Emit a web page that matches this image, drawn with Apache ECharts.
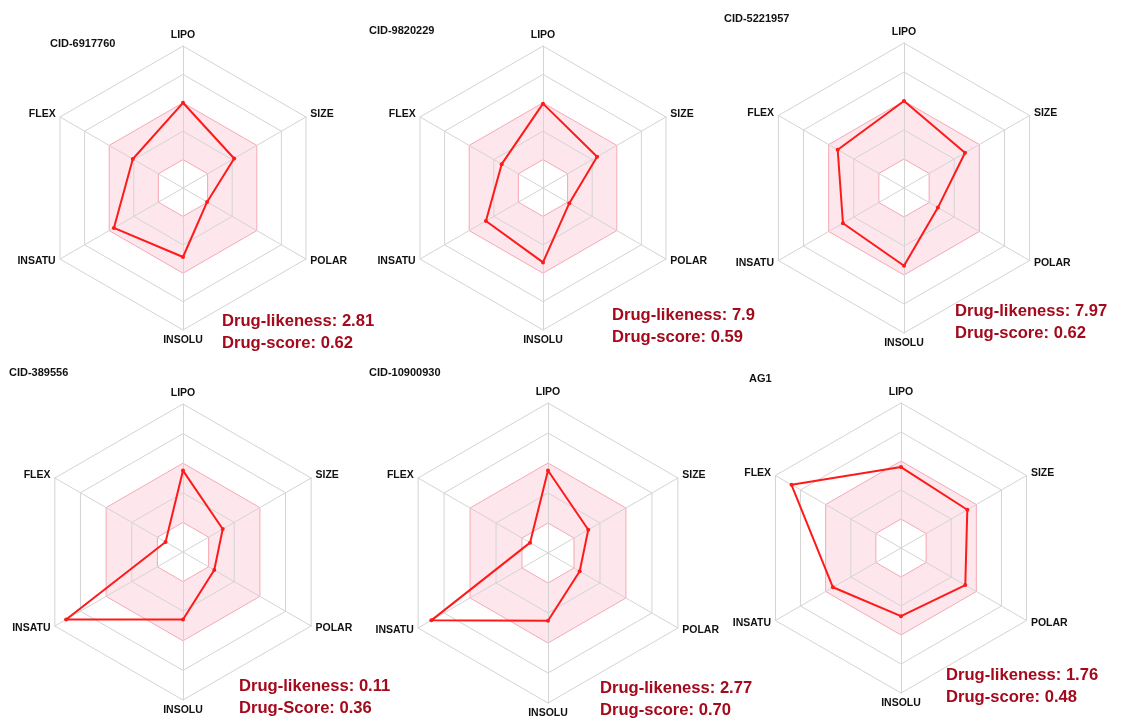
<!DOCTYPE html>
<html>
<head>
<meta charset="utf-8">
<script src="https://cdn.jsdelivr.net/npm/echarts@6/dist/echarts.min.js"></script>
<style>html,body{margin:0;padding:0;background:#fff;}#c{width:1124px;height:724px;}</style>
</head>
<body>
<div id="c"></div>
<script>
// Axis order (counter-clockwise from top, as ECharts radar places them)
const axisNames = ['LIPO', 'FLEX', 'INSATU', 'INSOLU', 'POLAR', 'SIZE'];
const axisMax = 5;

const compounds = ['CID-6917760', 'CID-9820229', 'CID-5221957', 'CID-389556', 'CID-10900930', 'AG1'];

const valsCID6917760  = [3.00, 2.04, 2.81, 2.43, 0.98, 2.08];
const valsCID9820229  = [2.97, 1.68, 2.32, 2.62, 1.07, 2.20];
const valsCID5221957  = [3.00, 2.64, 2.43, 2.68, 1.35, 2.43];
const valsCID389556   = [2.75, 0.68, 4.56, 2.28, 1.22, 1.55];
const valsCID10900930 = [2.75, 0.69, 4.49, 2.26, 1.22, 1.55];
const valsAG1         = [2.79, 4.36, 2.71, 2.35, 2.56, 2.64];

const drugLikeness = ['2.81', '7.9', '7.97', '0.11', '2.77', '1.76'];
const drugScore    = ['0.62', '0.59', '0.62', '0.36', '0.70', '0.48'];
const scoreLabel   = ['Drug-score', 'Drug-score', 'Drug-score', 'Drug-Score', 'Drug-score', 'Drug-score'];

const allValues = [valsCID6917760, valsCID9820229, valsCID5221957, valsCID389556, valsCID10900930, valsAG1];

// layout
const centers = [[183, 188], [543, 188], [904, 188], [183, 552], [548, 553], [901, 548]];
const radii = [142, 142, 145, 148, 150, 145];
const titlePos = [[50, 38], [369, 25], [724, 13], [9, 367], [369, 367], [749, 373]];
const textPos = [[222, 310], [612, 304], [955, 300], [239, 675], [600, 677], [946, 664]];

const gridGrey = '#d4d4d4';
const bandPink = '#fde6ec';
const bandEdge = '#f5a9b4';
const lineRed = '#ff1a1a';
const textRed = '#a30a1c';
const fontFam = 'Liberation Sans, Arial, sans-serif';

const radars = [], series = [], titles = [];
for (let k = 0; k < 6; k++) {
  radars.push({
    center: centers[k],
    radius: radii[k],
    shape: 'polygon',
    splitNumber: 5,
    indicator: axisNames.map(n => ({ name: n, min: 0, max: axisMax })),
    axisName: { color: '#111', fontSize: 10.5, fontWeight: 'bold', fontFamily: fontFam },
    nameGap: 5,
    axisLine: { lineStyle: { color: gridGrey, width: 1 } },
    splitLine: { lineStyle: { color: [gridGrey, bandEdge, gridGrey, bandEdge, gridGrey, gridGrey], width: 1 } },
    splitArea: { show: true, areaStyle: { color: ['#fff', bandPink, bandPink, '#fff', '#fff'] } }
  });
  series.push({
    type: 'radar',
    radarIndex: k,
    symbol: 'circle',
    symbolSize: 4,
    silent: true,
    lineStyle: { color: lineRed, width: 2 },
    itemStyle: { color: lineRed },
    data: [{ value: allValues[k], name: compounds[k] }]
  });
  titles.push({
    text: compounds[k],
    left: titlePos[k][0], top: titlePos[k][1], padding: 0,
    textStyle: { fontSize: 11, fontWeight: 'bold', color: '#111', fontFamily: fontFam, lineHeight: 12 }
  });
  titles.push({
    text: 'Drug-likeness: ' + drugLikeness[k] + '\n' + scoreLabel[k] + ': ' + drugScore[k],
    left: textPos[k][0], top: textPos[k][1], padding: 0,
    textStyle: { fontSize: 16.6, fontWeight: 'bold', color: textRed, fontFamily: fontFam, lineHeight: 22 }
  });
}

const chart = echarts.init(document.getElementById('c'), null, { renderer: 'canvas' });
chart.setOption({
  backgroundColor: '#fff',
  animation: false,
  title: titles,
  radar: radars,
  series: series
});
</script>
</body>
</html>
